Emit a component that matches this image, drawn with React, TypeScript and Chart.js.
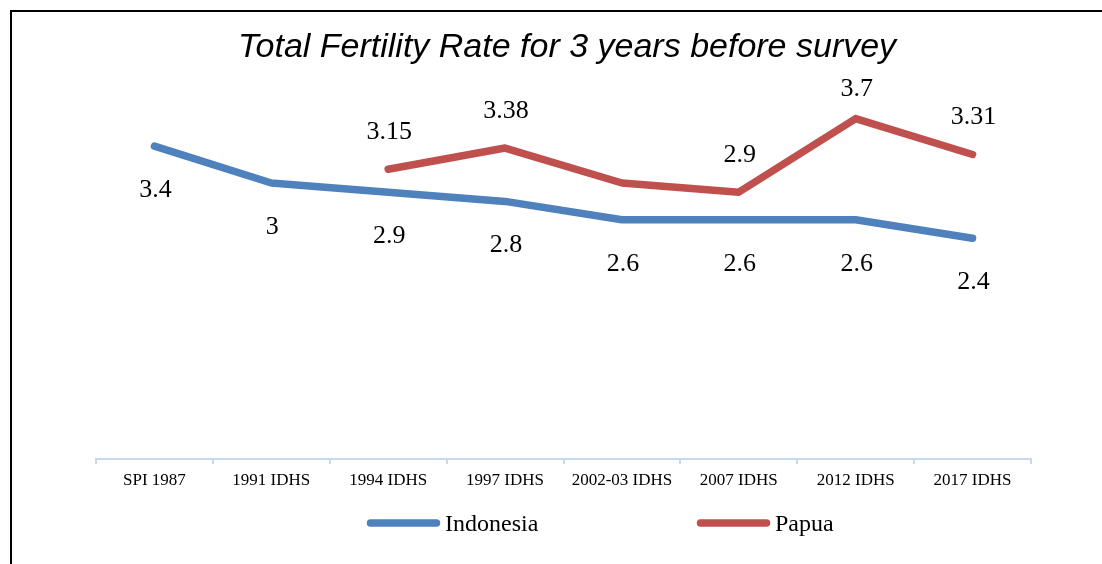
import React, { useEffect, useRef } from "react";
import { Chart, registerables } from "chart.js";

Chart.register(...registerables);

const categories = [
  "SPI 1987",
  "1991 IDHS",
  "1994 IDHS",
  "1997 IDHS",
  "2002-03 IDHS",
  "2007 IDHS",
  "2012 IDHS",
  "2017 IDHS",
];
const indonesia = [3.4, 3, 2.9, 2.8, 2.6, 2.6, 2.6, 2.4];
const papua = [null, null, 3.15, 3.38, 3.0, 2.9, 3.7, 3.31];
const indonesiaLabels = ["3.4", "3", "2.9", "2.8", "2.6", "2.6", "2.6", "2.4"];
const papuaLabels = ["", "", "3.15", "3.38", "", "2.9", "3.7", "3.31"];
const seriesNames = ["Indonesia", "Papua"];
const titleText = "Total Fertility Rate for 3 years before survey";

const BLUE = "#4F81BD";
const RED = "#C0504D";
const AXIS = "#C6D9F1";
const SERIF = "'Liberation Serif', 'Times New Roman', serif";
const SANS = "'Liberation Sans', Arial, sans-serif";

const decorPlugin = {
  id: "decor",
  afterDraw(chart: any) {
    const ctx = chart.ctx;
    const area = chart.chartArea;
    ctx.save();
    // outer frame
    ctx.strokeStyle = "#000";
    ctx.lineWidth = 2;
    ctx.strokeRect(11, 11, 2000, 2000);
    // title
    ctx.fillStyle = "#000";
    ctx.font = `italic 34px ${SANS}`;
    ctx.textAlign = "center";
    ctx.textBaseline = "alphabetic";
    ctx.fillText(titleText, 567, 57);
    // data labels
    ctx.font = `26px ${SERIF}`;
    ctx.textBaseline = "middle";
    const labelSets = [indonesiaLabels, papuaLabels];
    chart.data.datasets.forEach((ds: any, di: number) => {
      const meta = chart.getDatasetMeta(di);
      meta.data.forEach((pt: any, i: number) => {
        const txt = labelSets[di][i];
        if (!txt || ds.data[i] == null) return;
        let y = di === 0 ? pt.y + 44 : pt.y - 37;
        if (di === 1) y = Math.max(y, area.top - 2);
        ctx.fillText(txt, pt.x + 1, y);
      });
    });
    // legend
    const items = [
      { x: 367, color: BLUE, name: seriesNames[0] },
      { x: 697, color: RED, name: seriesNames[1] },
    ];
    const ly = 523;
    items.forEach((it) => {
      ctx.strokeStyle = it.color;
      ctx.lineWidth = 7.5;
      ctx.lineCap = "round";
      ctx.beginPath();
      ctx.moveTo(it.x + 3.5, ly);
      ctx.lineTo(it.x + 73 - 3.5, ly);
      ctx.stroke();
      ctx.fillStyle = "#000";
      ctx.font = `24px ${SERIF}`;
      ctx.textAlign = "left";
      ctx.textBaseline = "alphabetic";
      ctx.fillText(it.name, it.x + 78, 531);
    });
    ctx.restore();
  },
};

export default function App() {
  const ref = useRef<HTMLCanvasElement>(null);
  useEffect(() => {
    if (!ref.current) return;
    const chart = new Chart(ref.current, {
      type: "line",
      data: {
        labels: categories,
        datasets: [
          {
            label: seriesNames[0],
            data: indonesia,
            borderColor: BLUE,
            backgroundColor: BLUE,
            borderWidth: 7.5,
            borderCapStyle: "round",
            borderJoinStyle: "round",
            pointRadius: 0,
            tension: 0,
          },
          {
            label: seriesNames[1],
            data: papua,
            borderColor: RED,
            backgroundColor: RED,
            borderWidth: 7.5,
            borderCapStyle: "round",
            borderJoinStyle: "round",
            pointRadius: 0,
            tension: 0,
          },
        ],
      },
      options: {
        responsive: false,
        animation: false,
        layout: { padding: { left: 96, right: 71, top: 91, bottom: 0 } },
        plugins: {
          legend: { display: false },
          title: { display: false },
          tooltip: { enabled: false },
        },
        scales: {
          x: {
            offset: true,
            grid: {
              offset: true,
              drawOnChartArea: false,
              drawTicks: true,
              tickLength: 5,
              color: AXIS,
              lineWidth: 2,
            },
            border: { color: AXIS, width: 2 },
            ticks: {
              color: "#000",
              font: { family: SERIF, size: 17 },
              padding: 6,
              maxRotation: 0,
              autoSkip: false,
            },
            afterFit(scale: any) {
              scale.height = 105;
            },
          },
          y: {
            display: false,
            min: 0,
            max: 4,
          },
        },
      },
      plugins: [decorPlugin],
    });
    return () => chart.destroy();
  }, []);
  return (
    <div style={{ position: "absolute", left: 0, top: 0, width: 1102, height: 564, background: "#fff" }}>
      <canvas ref={ref} width={1102} height={564} style={{ width: 1102, height: 564 }} />
    </div>
  );
}
